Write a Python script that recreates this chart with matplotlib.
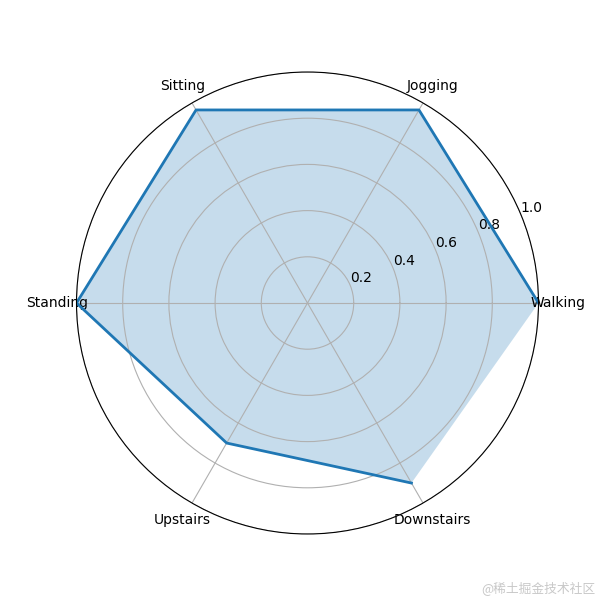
import numpy as np
import matplotlib.pyplot as plt

plt.rcParams['font.family'] = ['DejaVu Sans', 'Noto Sans CJK SC']

labels = ['Walking', 'Jogging', 'Sitting', 'Standing', 'Upstairs', 'Downstairs']
values = [1.0, 0.965, 0.965, 1.0, 0.70, 0.90]

angles = np.linspace(0, 2 * np.pi, len(labels), endpoint=False)

fig = plt.figure(figsize=(6, 6), dpi=100)
ax = fig.add_subplot(111, polar=True)
ax.plot(angles, values, color='tab:blue', linewidth=2)
ax.fill(angles, values, color='tab:blue', alpha=0.25, linewidth=0)
ax.set_thetagrids(np.degrees(angles), labels)
ax.set_ylim(0, 1)
ax.set_rticks([0.2, 0.4, 0.6, 0.8, 1.0])
ax.grid(True)

fig.text(0.993, 0.008, '@稀土掘金技术社区', ha='right', va='bottom', color='#c8c8c8',
         fontsize=9.2, family=['Noto Sans CJK SC', 'DejaVu Sans'])

plt.savefig('out.png')
